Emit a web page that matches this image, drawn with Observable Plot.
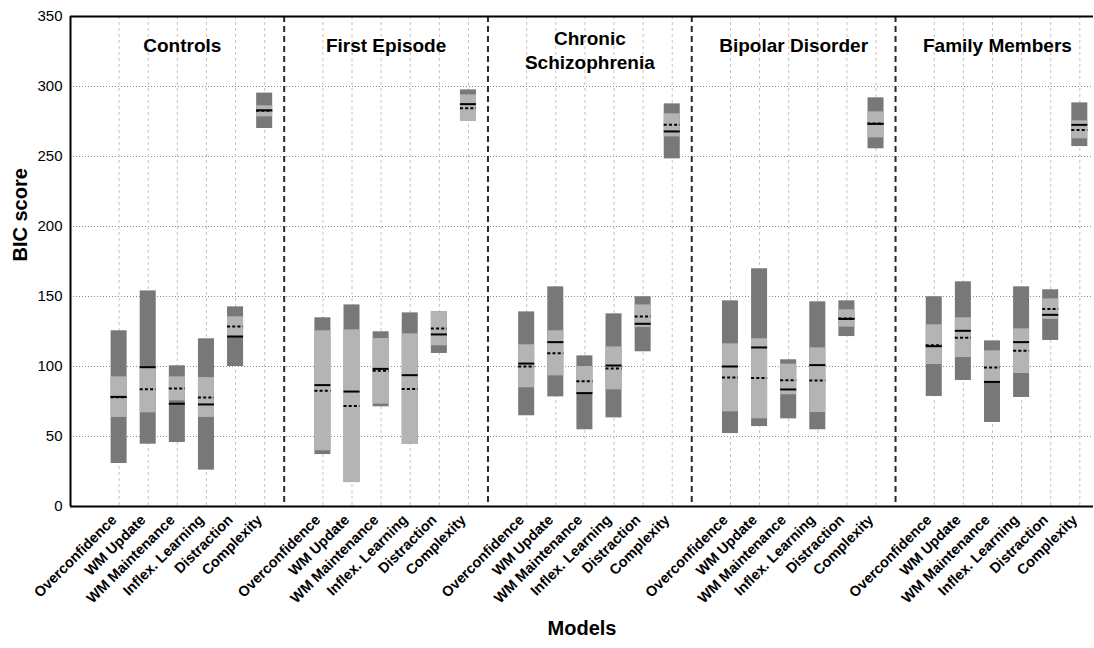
<!DOCTYPE html>
<html>
<head>
<meta charset="utf-8">
<script src="https://cdn.jsdelivr.net/npm/d3@7"></script>
<script src="https://cdn.jsdelivr.net/npm/@observablehq/plot@0.6"></script>
<style>
  html, body { margin: 0; padding: 0; background: #fff; }
  #chart svg { display: block; font-family: "Liberation Sans", Arial, Helvetica, sans-serif; }
</style>
</head>
<body>
<div id="chart"></div>
<script>
// ---- data ----
const groups = ["Controls", "First Episode", "Chronic\nSchizophrenia", "Bipolar Disorder", "Family Members"];
const models = ["Overconfidence", "WM Update", "WM Maintenance", "Inflex. Learning", "Distraction", "Complexity"];
const yTicks = [0, 50, 100, 150, 200, 250, 300, 350];

// dark bars (full range): low / high, one row per group, one value per model
const rangeLow = [
  [30.7, 44.5, 45.7, 26.0, 100.0, 270.0],
  [37.1, 17.1, 71.2, 44.3, 109.3, 275.0],
  [64.8, 78.3, 54.8, 63.3, 110.5, 248.3],
  [52.1, 57.1, 62.6, 54.8, 121.4, 255.5],
  [78.6, 90.0, 60.0, 77.9, 118.6, 257.1]
];
const rangeHigh = [
  [125.5, 154.0, 100.5, 119.8, 142.6, 295.3],
  [134.8, 144.0, 124.8, 138.3, 139.0, 297.6],
  [139.0, 156.9, 107.6, 137.6, 149.8, 287.6],
  [146.9, 169.8, 104.8, 146.2, 146.9, 291.9],
  [149.8, 160.5, 118.3, 156.9, 154.8, 288.3]
];
// light bars (inner range)
const innerLow = [
  [63.6, 66.9, 75.5, 63.6, 121.6, 278.3],
  [39.8, 17.1, 73.1, 44.3, 114.8, 275.0],
  [84.8, 93.3, 80.2, 83.3, 127.9, 264.0],
  [67.6, 62.6, 79.8, 67.1, 128.1, 263.3],
  [101.4, 106.4, 89.0, 95.0, 133.6, 262.6]
];
const innerHigh = [
  [92.6, 99.3, 92.6, 92.1, 135.5, 286.2],
  [125.5, 126.2, 120.0, 123.3, 139.0, 294.0],
  [115.5, 125.5, 100.0, 114.0, 144.0, 280.5],
  [116.2, 119.8, 101.7, 113.3, 140.5, 281.9],
  [129.8, 134.8, 111.2, 126.9, 148.3, 275.5]
];
// solid line (median) and dotted line (mean)
const medians = [
  [78.3, 99.5, 73.4, 72.9, 121.4, 283.0],
  [86.7, 82.1, 98.3, 93.8, 122.9, 287.4],
  [102.1, 117.4, 81.0, 100.7, 130.5, 267.9],
  [100.0, 113.6, 83.6, 101.0, 134.0, 273.3],
  [114.5, 125.5, 89.0, 117.4, 136.9, 272.6]
];
const means = [
  [78.0, 83.7, 84.2, 77.9, 128.6, 282.6],
  [82.6, 71.7, 96.9, 84.0, 127.1, 284.5],
  [100.0, 109.5, 89.5, 98.6, 135.7, 272.6],
  [92.1, 91.7, 90.2, 90.0, 134.3, 273.6],
  [115.2, 120.5, 99.3, 111.2, 141.0, 269.0]
];

// ---- layout of the grouped x axis ----
const groupSpan = 7;        // units per group
const firstOffset = 1.33;   // first model position inside a group
const halfBox = 0.275;      // half width of each bar in x units
const xDomain = [-0.34, 34.8];

const rows = [];
groups.forEach((g, gi) => {
  models.forEach((m, mi) => {
    rows.push({
      group: g, model: m,
      pos: gi * groupSpan + firstOffset + mi,
      lo: rangeLow[gi][mi], hi: rangeHigh[gi][mi],
      ilo: innerLow[gi][mi], ihi: innerHigh[gi][mi],
      med: medians[gi][mi], mean: means[gi][mi]
    });
  });
});
const titles = groups.map((g, gi) => ({name: g, center: gi * groupSpan + groupSpan / 2, multi: g.includes("\n")}));
const separators = d3.range(1, groups.length).map(i => i * groupSpan);

const font = "Liberation Sans, Arial, Helvetica, sans-serif";
const titleStyle = {x: "center", frameAnchor: "top", text: "name", fontSize: 19, fontWeight: "bold",
  lineAnchor: "middle", lineHeight: 1.27, fill: "#000"};

const chart = Plot.plot({
  width: 1094,
  height: 648,
  marginLeft: 70,
  marginRight: 1,
  marginTop: 16,
  marginBottom: 142,
  style: {fontFamily: font, background: "#fff", color: "#000"},
  x: {domain: xDomain, axis: null},
  y: {domain: [0, 350], axis: null},
  marks: [
    // horizontal dotted grid
    Plot.ruleY(yTicks.filter(t => t > 0 && t < 350), {stroke: "#8a8a8a", strokeWidth: 1, strokeDasharray: "1,2"}),
    // vertical dashed grid at each model
    Plot.ruleX(rows, {x: "pos", stroke: "#c4c4c4", strokeWidth: 1, strokeDasharray: "3,3"}),
    // group separators
    Plot.ruleX(separators, {stroke: "#2a2a2a", strokeWidth: 2, strokeDasharray: "6,4"}),
    // dark full-range bars
    Plot.rect(rows, {x1: d => d.pos - halfBox, x2: d => d.pos + halfBox, y1: "lo", y2: "hi", fill: "#787878"}),
    // light inner bars
    Plot.rect(rows, {x1: d => d.pos - halfBox, x2: d => d.pos + halfBox, y1: "ilo", y2: "ihi", fill: "#b4b4b4"}),
    // median (solid) and mean (dotted)
    Plot.ruleY(rows, {y: "med", x1: d => d.pos - halfBox, x2: d => d.pos + halfBox, stroke: "#000", strokeWidth: 2}),
    Plot.ruleY(rows, {y: "mean", x1: d => d.pos - halfBox, x2: d => d.pos + halfBox, stroke: "#000", strokeWidth: 2, strokeDasharray: "3,2.2"}),
    // axes lines (box: left, bottom, top)
    Plot.ruleY([0, 350], {stroke: "#000", strokeWidth: 2}),
    Plot.ruleX([xDomain[0]], {stroke: "#000", strokeWidth: 2}),
    // y tick labels
    Plot.axisY({ticks: yTicks, tickSize: 0, tickPadding: 8, fontSize: 15, label: null}),
    // group titles
    Plot.text(titles.filter(d => !d.multi), {...titleStyle, dy: 28}),
    Plot.text(titles.filter(d => d.multi), {...titleStyle, dy: 33}),
    // rotated model labels
    Plot.text(rows, {x: "pos", frameAnchor: "bottom", dy: 11, dx: -5, text: "model", rotate: -45,
      textAnchor: "end", lineAnchor: "middle", fontSize: 14.5, fontWeight: "bold", fill: "#000"}),
    // axis titles
    Plot.text(["BIC score"], {frameAnchor: "left", dx: -50, rotate: -90, text: d => d,
      fontSize: 20, fontWeight: "bold", fill: "#000"}),
    Plot.text(["Models"], {frameAnchor: "bottom", dy: 128, text: d => d,
      fontSize: 20, fontWeight: "bold", fill: "#000"})
  ]
});
document.getElementById("chart").appendChild(chart);
</script>
</body>
</html>
